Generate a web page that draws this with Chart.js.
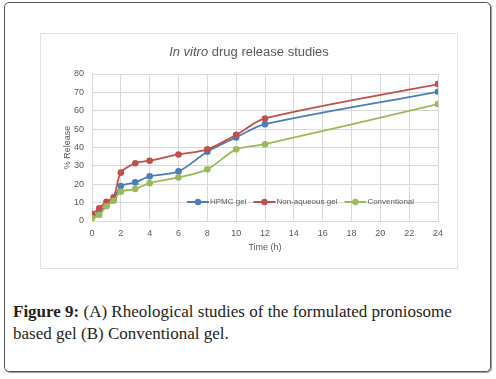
<!DOCTYPE html>
<html>
<head>
<meta charset="utf-8">
<script src="https://cdn.jsdelivr.net/npm/chart.js@4"></script>
<style>
body{margin:0;background:#fff;width:496px;height:379px;position:relative;overflow:hidden;}
#frame{position:absolute;left:4px;top:2px;width:485px;height:368px;border:1px solid #555;border-radius:5px;box-shadow:1px 1px 1px #999;}
#box{position:absolute;left:40px;top:33px;width:416px;height:234px;border:1px solid #e2e2e2;}
#caption{position:absolute;left:13px;top:301px;font-family:"Liberation Serif",serif;font-size:17px;line-height:22px;color:#231f20;}
#caption b{font-weight:bold;}
</style>
</head>
<body>
<div id="frame"></div>
<div id="box"><canvas id="grafico" width="416" height="234"></canvas></div>
<div id="caption"><b>Figure 9:</b> (A) Rheological studies of the formulated proniosome<br>based gel (B) Conventional gel.</div>
<script>
const tempos=[0,0.5,1,1.5,2,3,4,6,8,10,12,24];
const hpmc=[2,5,8.5,11.5,19,21,24.3,27,37.7,45.5,52.7,70.3];
const naoAquoso=[3.8,6.9,10.5,12.9,26.3,31.4,32.8,36.2,39,46.9,55.8,74.5];
const convencional=[1.5,3.3,8,11,15.9,17.4,20.6,23.7,28.1,39,41.8,63.6];
const nomes=["HPMC gel","Non-aqueous gel","Conventional"];
const cores=["#4a7ebb","#c0504d","#9bbb59"];

const cinza="#595959";
const fonte="'Liberation Sans', Arial, sans-serif";

function pontos(valores){
    return tempos.map((t,i)=>({x:t,y:valores[i]}));
}

// titulo com "In vitro" em italico
const tituloPlugin={
    id:"titulo",
    afterDraw(chart){
        const ctx=chart.ctx;
        ctx.save();
        ctx.fillStyle=cinza;
        ctx.textBaseline="middle";
        ctx.font="italic 13px "+fonte;
        const a="In vitro";
        const wa=ctx.measureText(a).width;
        ctx.font="13px "+fonte;
        const b=" drug release studies";
        const wb=ctx.measureText(b).width;
        let x=chart.width/2-(wa+wb)/2;
        ctx.font="italic 13px "+fonte;
        ctx.fillText(a,x,18);
        ctx.font="13px "+fonte;
        ctx.fillText(b,x+wa,18);
        ctx.restore();
    }
};

// legenda dentro da area do grafico
const legendaPlugin={
    id:"legendaInterna",
    afterDraw(chart){
        const ctx=chart.ctx;
        ctx.save();
        ctx.font="8px "+fonte;
        ctx.textBaseline="middle";
        let x=146;
        const y=168;
        chart.data.datasets.forEach(ds=>{
            ctx.strokeStyle=ds.borderColor;
            ctx.lineWidth=2;
            ctx.beginPath();
            ctx.moveTo(x,y);
            ctx.lineTo(x+22,y);
            ctx.stroke();
            ctx.fillStyle=ds.borderColor;
            ctx.beginPath();
            ctx.arc(x+11,y,3.2,0,Math.PI*2);
            ctx.fill();
            ctx.fillStyle=cinza;
            ctx.fillText(ds.label,x+23,y);
            x+=23+ctx.measureText(ds.label).width+7;
        });
        ctx.restore();
    }
};

const ctx=document.getElementById("grafico").getContext("2d");

const series=[hpmc,naoAquoso,convencional];

new Chart(ctx,{
    type:"line",
    data:{
        datasets:series.map((s,i)=>({
            label:nomes[i],
            data:pontos(s),
            borderColor:cores[i],
            backgroundColor:cores[i],
            borderWidth:1.8,
            pointRadius:3.3,
            pointBorderWidth:0,
            tension:0.3,
            order:2-i
        }))
    },
    options:{
        responsive:false,
        animation:false,
        layout:{padding:{top:40,right:19,left:0,bottom:0}},
        plugins:{
            legend:{display:false},
            title:{display:false},
            tooltip:{enabled:false}
        },
        scales:{
            x:{
                type:"linear",
                min:0,
                max:24,
                afterFit(scale){scale.height=47;},
                ticks:{stepSize:2,color:cinza,padding:7,font:{size:9,family:fonte},maxRotation:0},
                grid:{color:"#d9d9d9",drawTicks:false},
                border:{color:"#d9d9d9"},
                title:{display:true,text:"Time (h)",color:cinza,font:{size:9,family:fonte},padding:{top:0,bottom:15}}
            },
            y:{
                min:0,
                max:80,
                afterFit(scale){scale.width=51;},
                ticks:{stepSize:10,color:cinza,padding:8,font:{size:9,family:fonte}},
                grid:{color:"#d9d9d9",drawTicks:false},
                border:{color:"#d9d9d9"},
                title:{display:true,text:"% Release",color:cinza,font:{size:9,family:fonte},padding:{top:21,bottom:0}}
            }
        }
    },
    plugins:[tituloPlugin,legendaPlugin]
});
</script>
</body>
</html>
